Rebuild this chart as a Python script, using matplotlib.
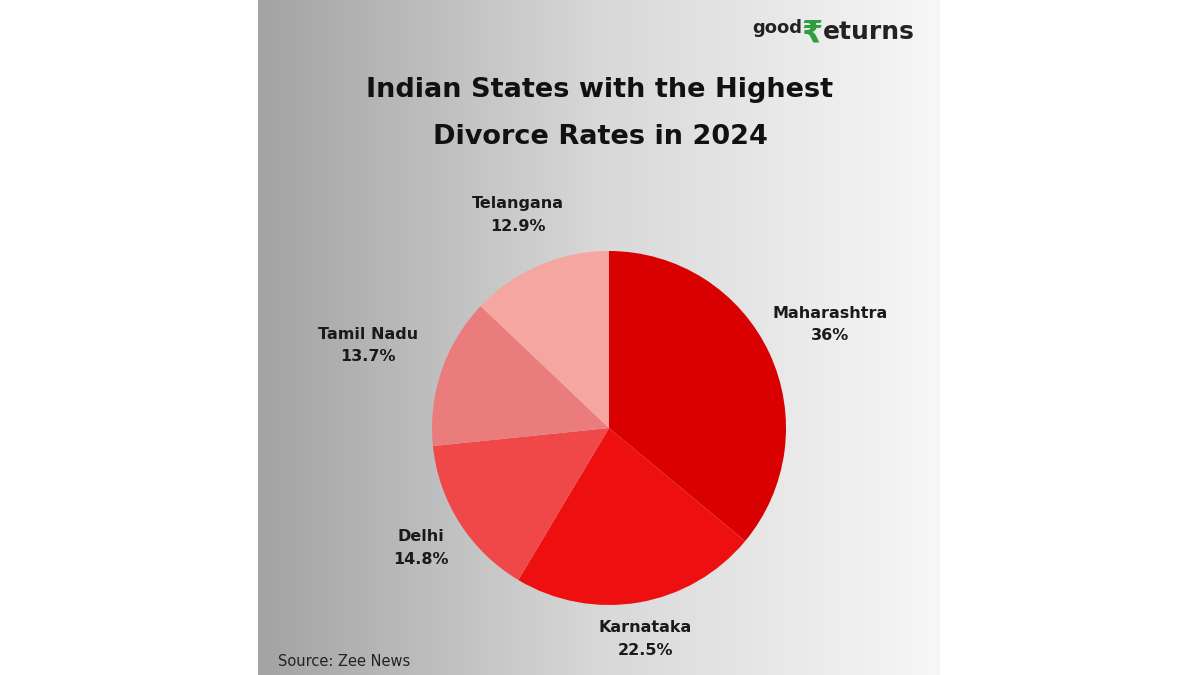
import numpy as np
import matplotlib.pyplot as plt
from matplotlib.colors import LinearSegmentedColormap

states = ["Maharashtra", "Karnataka", "Delhi", "Tamil Nadu", "Telangana"]
shares = [36, 22.5, 14.8, 13.7, 12.9]
share_labels = ["36%", "22.5%", "14.8%", "13.7%", "12.9%"]
colors = ["#D80000", "#EE1010", "#F04848", "#EB7C7C", "#F5A6A1"]
label_dist = [1.38, 1.21, 1.26, 1.44, 1.31]

W, H = 1198, 675
fig = plt.figure(figsize=(W/100, H/100), dpi=100)
fig.patch.set_facecolor("white")

bg = fig.add_axes([258/W, 0, (940-258)/W, 1])
grad = np.linspace(0, 1, 256)[None, :]
cmap = LinearSegmentedColormap.from_list("g", ["#A3A3A3", "#D8D8D8", "#F7F7F7"])
bg.imshow(grad, aspect="auto", cmap=cmap, extent=[0, 1, 0, 1])
bg.axis("off")

cx, cy, r = 609, 428, 177
ax = fig.add_axes([(cx-r)/W, (H-cy-r)/H, 2*r/W, 2*r/H])
wedges, _ = ax.pie(shares, colors=colors, startangle=90, counterclock=False,
                   radius=1, wedgeprops=dict(linewidth=0))
ax.set_xlim(-1, 1); ax.set_ylim(-1, 1); ax.set_aspect("auto")
for w, s, p, d in zip(wedges, states, share_labels, label_dist):
    ang = np.deg2rad((w.theta1 + w.theta2) / 2)
    ax.text(d*np.cos(ang), d*np.sin(ang), f"{s}\n{p}", ha="center", va="center",
            fontsize=11.5, fontweight="bold", color="#1a1a1a", linespacing=1.6,
            clip_on=False)

fig.text(600/W, 1-90/H, "Indian States with the Highest", ha="center", va="center",
         fontsize=19.5, fontweight="bold", color="#111111")
fig.text(600/W, 1-137/H, "Divorce Rates in 2024", ha="center", va="center",
         fontsize=19.5, fontweight="bold", color="#111111")

fig.text(752/W, 1-28/H, "good", ha="left", va="center", fontsize=13, fontweight="bold", color="#222222")
fig.text(801/W, 1-34/H, "₹", ha="left", va="center", fontsize=22, fontweight="bold", color="#2E9E3E")
fig.text(823/W, 1-32/H, "eturns", ha="left", va="center", fontsize=18, fontweight="bold", color="#222222")

fig.text(278/W, 1-661/H, "Source: Zee News", ha="left", va="center", fontsize=10.5, color="#222222")

fig.savefig("out.png", dpi=100)
